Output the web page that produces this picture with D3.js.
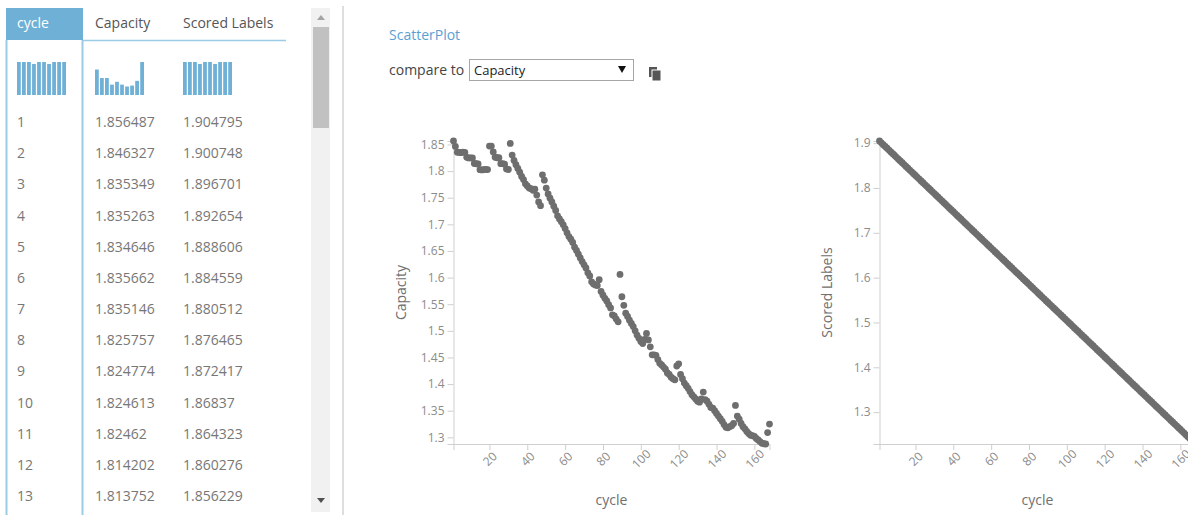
<!DOCTYPE html>
<html>
<head>
<meta charset="utf-8">
<script src="https://cdn.jsdelivr.net/npm/d3@7"></script>
<style>
body { margin: 0; background: #fff; }
svg text { font-family: "Segoe UI", "Open Sans", sans-serif; }
.axis path, .axis line { stroke: #cfcfcf; }
.axis text { fill: #8c8c8c; font-size: 12px; }
</style>
</head>
<body>
<script>
var w = 1188;
var h = 515;

// data
var columns = ["cycle", "Capacity", "Scored Labels"];
var cycle = d3.range(1, 169);
var capacity = [
  1.856487, 1.846327, 1.835349, 1.835263, 1.834646, 1.835662, 1.835146, 1.825757, 1.824774, 1.824613,
  1.82462, 1.814202, 1.813752, 1.81346, 1.80259, 1.80211, 1.80258, 1.80307, 1.80278,
  1.847, 1.847, 1.836, 1.826, 1.825, 1.825, 1.814, 1.814, 1.813, 1.804, 1.803,
  1.852, 1.830, 1.820, 1.812, 1.805, 1.798, 1.790, 1.784, 1.776, 1.772, 1.768, 1.767, 1.764, 1.766, 1.755, 1.742, 1.735,
  1.793, 1.783, 1.768, 1.757, 1.749, 1.742, 1.734, 1.726,
  1.716, 1.710, 1.705, 1.699, 1.692, 1.684, 1.677, 1.672, 1.666, 1.657, 1.651, 1.644, 1.637, 1.630, 1.624, 1.618, 1.609, 1.603, 1.592, 1.588, 1.586,
  1.585, 1.596, 1.574, 1.567, 1.561, 1.556, 1.549, 1.543, 1.530, 1.528, 1.522, 1.517,
  1.606, 1.564, 1.548, 1.533, 1.527, 1.520, 1.514, 1.508, 1.500, 1.492, 1.486, 1.480, 1.476,
  1.484, 1.495, 1.483, 1.470, 1.455, 1.455, 1.454, 1.446, 1.439, 1.436, 1.432, 1.428, 1.421, 1.418, 1.413, 1.410, 1.408,
  1.434, 1.438, 1.418, 1.410, 1.402, 1.397, 1.392, 1.386, 1.380, 1.376, 1.372, 1.368, 1.366,
  1.372, 1.385, 1.371, 1.368, 1.362, 1.356, 1.355, 1.350, 1.345, 1.340, 1.335, 1.330, 1.324, 1.319, 1.318, 1.320, 1.322, 1.326,
  1.360, 1.340, 1.334, 1.326, 1.320, 1.316, 1.311, 1.307, 1.304, 1.303, 1.302, 1.298, 1.295, 1.292, 1.289, 1.288, 1.2875, 1.309, 1.325
];
var scored = [
  1.904795, 1.900748, 1.896701, 1.892654, 1.888606, 1.884559, 1.880512, 1.876465, 1.872417, 1.86837,
  1.864323, 1.860276, 1.856229, 1.852182, 1.848135, 1.844088, 1.840041, 1.835993, 1.831946, 1.827899,
  1.823852, 1.819805, 1.815758, 1.81171, 1.807663, 1.803616, 1.799569, 1.795522, 1.791474, 1.787427,
  1.78338, 1.779333, 1.775286, 1.771238, 1.767191, 1.763144, 1.759097, 1.75505, 1.751002, 1.746955,
  1.742908, 1.738861, 1.734814, 1.730766, 1.726719, 1.722672, 1.718625, 1.714578, 1.71053, 1.706483,
  1.702436, 1.698389, 1.694342, 1.690294, 1.686247, 1.6822, 1.678153, 1.674106, 1.670058, 1.666011,
  1.661965, 1.657918, 1.653871, 1.649824, 1.645776, 1.641729, 1.637682, 1.633635, 1.629588, 1.62554,
  1.621493, 1.617446, 1.613399, 1.609352, 1.605304, 1.601257, 1.59721, 1.593163, 1.589116, 1.585068,
  1.581021, 1.576974, 1.572927, 1.56888, 1.564832, 1.560785, 1.556738, 1.552691, 1.548644, 1.544596,
  1.54055, 1.536503, 1.532456, 1.528408, 1.524361, 1.520314, 1.516267, 1.51222, 1.508172, 1.504125,
  1.500078, 1.496031, 1.491984, 1.487936, 1.483889, 1.479842, 1.475795, 1.471748, 1.4677, 1.463653,
  1.459606, 1.455559, 1.451512, 1.447464, 1.443417, 1.43937, 1.435323, 1.431276, 1.427228, 1.423181,
  1.419135, 1.415088, 1.411041, 1.406993, 1.402946, 1.398899, 1.394852, 1.390805, 1.386757, 1.38271,
  1.378663, 1.374616, 1.370569, 1.366521, 1.362474, 1.358427, 1.35438, 1.350333, 1.346285, 1.342238,
  1.338191, 1.334144, 1.330097, 1.326049, 1.322002, 1.317955, 1.313908, 1.309861, 1.305813, 1.301766,
  1.297719, 1.293672, 1.289625, 1.285577, 1.28153, 1.277483, 1.273436, 1.269389, 1.265341, 1.261294,
  1.257248, 1.253201, 1.249154, 1.245106, 1.241059, 1.237012, 1.232965, 1.228918
];
var visibleRows = 13;

var svg = d3.select("body").append("svg")
  .attr("width", w)
  .attr("height", h);

// ---------- table on the left ----------
var colX = [17, 95, 183];
var blue = "#6fb0d7";

svg.append("rect")
  .attr("x", 6).attr("y", 8).attr("width", 77).attr("height", 32)
  .attr("fill", blue);
svg.append("line")
  .attr("x1", 83).attr("x2", 286).attr("y1", 40.5).attr("y2", 40.5)
  .attr("stroke", "#9ccbe6").attr("stroke-width", 1.5);
[6.5, 82.5].forEach(function(lx) {
  svg.append("line")
    .attr("x1", lx).attr("x2", lx).attr("y1", 40).attr("y2", h)
    .attr("stroke", "#9ccbe6").attr("stroke-width", 2);
});

svg.selectAll(".colhead")
  .data(columns)
  .enter()
  .append("text")
  .attr("class", "colhead")
  .attr("x", function(d, i) { return colX[i]; })
  .attr("y", 28)
  .attr("font-size", "14px")
  .attr("fill", function(d, i) { return i == 0 ? "#fff" : "#555"; })
  .text(function(d) { return d; });

// little histograms under the headers
var series = [cycle, capacity, scored];
series.forEach(function(vals, i) {
  var ext = d3.extent(vals);
  var thr = d3.range(1, 10).map(function(k) { return ext[0] + k * (ext[1] - ext[0]) / 10; });
  var bins = d3.bin().domain(ext).thresholds(thr)(vals);
  var bx = d3.scaleBand().domain(d3.range(bins.length))
    .range([colX[i], colX[i] + 49]).paddingInner(0.25);
  var by = d3.scaleLinear().domain([0, d3.max(bins, function(b) { return b.length; })]).range([95, 62]);
  svg.append("g").selectAll("rect")
    .data(bins)
    .enter()
    .append("rect")
    .attr("x", function(d, k) { return bx(k); })
    .attr("width", bx.bandwidth())
    .attr("y", function(d) { return by(d.length); })
    .attr("height", function(d) { return 95 - by(d.length); })
    .attr("fill", blue);
});

var rows = cycle.slice(0, visibleRows).map(function(c, i) {
  return [c, capacity[i], scored[i]];
});
var ry = d3.scaleLinear().domain([0, visibleRows - 1]).range([127, 501]);

var rowG = svg.selectAll(".row")
  .data(rows)
  .enter()
  .append("g")
  .attr("class", "row")
  .attr("transform", function(d, i) { return "translate(0," + ry(i) + ")"; });
rowG.selectAll("text")
  .data(function(d) { return d; })
  .enter()
  .append("text")
  .attr("x", function(d, i) { return colX[i]; })
  .attr("font-size", "14px")
  .attr("fill", "#777")
  .text(function(d) { return d; });

// scrollbar
svg.append("rect").attr("x", 311).attr("y", 8).attr("width", 19).attr("height", 504).attr("fill", "#f1f1f1");
svg.append("rect").attr("x", 313).attr("y", 27).attr("width", 16).attr("height", 101).attr("fill", "#c1c1c1");
svg.append("path").attr("d", "M317,20L321,15L325,20Z").attr("fill", "#a3a3a3");
svg.append("path").attr("d", "M317,498L321,503L325,498Z").attr("fill", "#505050");

// separator
svg.append("rect").attr("x", 342).attr("y", 6).attr("width", 2).attr("height", 509).attr("fill", "#dedede");

// ---------- header of the scatter pane ----------
svg.append("text")
  .attr("x", 389).attr("y", 40)
  .attr("font-size", "14px")
  .attr("fill", "#5a9fd4")
  .text("ScatterPlot");
svg.append("text")
  .attr("x", 389).attr("y", 75)
  .attr("font-size", "14px")
  .attr("fill", "#444")
  .text("compare to");
svg.append("rect")
  .attr("x", 469.5).attr("y", 59.5).attr("width", 164).attr("height", 21)
  .attr("fill", "#fff").attr("stroke", "#a6a6a6");
svg.append("text")
  .attr("x", 474).attr("y", 75)
  .attr("font-size", "13px")
  .attr("fill", "#222")
  .text("Capacity");
svg.append("path").attr("d", "M618,66L626,66L622,73Z").attr("fill", "#111");
// copy icon
svg.append("rect").attr("x", 649).attr("y", 67).attr("width", 8).attr("height", 10).attr("fill", "#555");
svg.append("rect").attr("x", 652).attr("y", 70).attr("width", 9).attr("height", 11).attr("fill", "#555")
  .attr("stroke", "#fff").attr("stroke-width", 1);

// ---------- the two scatter plots ----------
var top_y = 141;
var bottom_y = 444;

function scatter(x0, yvals, ylabel, ticks) {
  var x = d3.scaleLinear().domain(d3.extent(cycle)).range([x0, x0 + 316]);
  var y = d3.scaleLinear().domain(d3.extent(yvals)).range([bottom_y, top_y]);

  var xg = svg.append("g")
    .attr("class", "axis")
    .attr("transform", "translate(0," + bottom_y + ")")
    .call(d3.axisBottom(x).ticks(10));
  xg.selectAll(".tick text")
    .attr("y", 0)
    .attr("dy", "0.35em")
    .attr("transform", "translate(0,15) rotate(-45)")
    .style("text-anchor", "middle");

  svg.append("g")
    .attr("class", "axis")
    .attr("transform", "translate(" + x0 + ",0)")
    .call(d3.axisLeft(y).ticks(ticks).tickFormat(function(d) { return +d.toFixed(2); }));

  svg.append("g").selectAll("circle")
    .data(cycle)
    .enter()
    .append("circle")
    .attr("cx", function(d) { return x(d); })
    .attr("cy", function(d, i) { return y(yvals[i]); })
    .attr("r", 3.4)
    .attr("fill", "#6e6e6e");

  svg.append("text")
    .attr("x", x0 + 158)
    .attr("y", 505)
    .attr("text-anchor", "middle")
    .attr("font-size", "14px")
    .attr("fill", "#707070")
    .text("cycle");

  svg.append("text")
    .attr("transform", "translate(" + (x0 - 48) + "," + ((top_y + bottom_y) / 2) + ") rotate(-90)")
    .attr("text-anchor", "middle")
    .attr("font-size", "14px")
    .attr("fill", "#707070")
    .text(ylabel);
}

scatter(453.5, capacity, "Capacity", 10);
scatter(879.5, scored, "Scored Labels", 6);
</script>
</body>
</html>
